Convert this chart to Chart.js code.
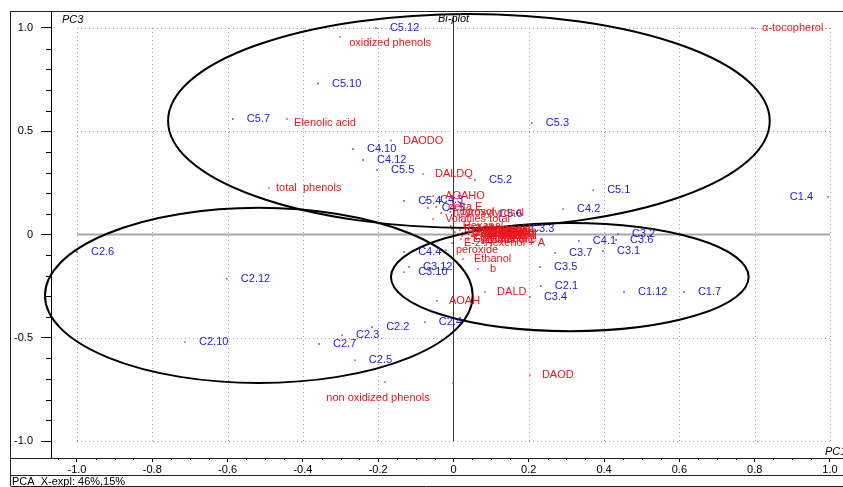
<!DOCTYPE html>
<html><head><meta charset="utf-8">
<script src="https://cdn.jsdelivr.net/npm/chart.js@4.4.1/dist/chart.umd.min.js"></script>
<style>html,body{margin:0;padding:0;background:#fff;overflow:hidden}canvas{display:block}</style>
</head><body>
<canvas id="c" width="843" height="487"></canvas>
<script>
// ---- data ----
const sampleNames = ["C5.12","C5.10","C5.7","C4.10","C4.12","C5.5","C5.4","C4.3","C4.5","C5.2","C5.6","C3.3","C5.3","C5.1","C4.2","C1.4","C3.2","C3.6","C4.1","C3.1","C3.7","C3.5","C2.1","C3.4","C1.12","C1.7","C2.6","C2.12","C2.10","C2.7","C2.3","C2.2","C2.5","C2.4","C4.4","C3.12","C3.10"];
const sampleX = [-0.206,-0.360,-0.586,-0.267,-0.240,-0.203,-0.131,-0.073,-0.068,0.057,0.084,0.169,0.208,0.371,0.291,0.995,0.437,0.432,0.333,0.397,0.270,0.230,0.232,0.203,0.453,0.612,-1.000,-0.602,-0.713,-0.357,-0.296,-0.216,-0.262,-0.076,-0.131,-0.118,-0.131];
const sampleY = [1.000,0.731,0.559,0.414,0.361,0.312,0.162,0.167,0.128,0.264,0.099,0.027,0.540,0.215,0.123,0.182,0.002,-0.027,-0.031,-0.080,-0.090,-0.157,-0.249,-0.303,-0.278,-0.278,-0.085,-0.215,-0.521,-0.530,-0.487,-0.448,-0.608,-0.424,-0.085,-0.157,-0.182];

const variableNames = ["α-tocopherol","oxidized phenols","Elenolic acid","DAODO","DALDQ","total  phenols","AOAHO","delta E","hydroxytyrosol","tyrosol","Volatiles total","Hexanal","E-2-Hexenal","Hexyl acetate","1-Penten-3-ol","Z-3-Hexenol","Octane","Pentanal","Acidity","K232","K270","Ethyl acetate","Nonanal","Heptanal","2-Pentenal","1-Butanol","Propanal","Hexenol","Hexenal","E-2-Hexenol + A","peroxide","Ethanol","b","AOAH","DALD","DAOD","non oxidized phenols",""];
const variableX = [0.793,-0.301,-0.442,-0.166,-0.081,-0.490,-0.054,-0.046,-0.033,-0.009,-0.054,-0.007,-0.004,0.004,0.012,0.023,0.039,0.044,0.057,0.084,0.097,0.020,0.065,0.049,0.023,0.039,0.054,0.078,0.017,-0.004,-0.020,0.025,0.065,-0.044,0.084,0.203,-0.182,-0.001];
const variableY = [1.000,0.956,0.559,0.455,0.293,0.225,0.186,0.133,0.104,0.109,0.075,0.041,0.027,0.012,0.002,-0.007,-0.017,0.017,0.002,-0.007,0.012,-0.022,0.027,-0.007,0.007,-0.027,0.017,0.007,0.022,-0.041,-0.075,-0.119,-0.167,-0.322,-0.278,-0.680,-0.714,-0.719];

const xTickValues = [-1.0,-0.8,-0.6,-0.4,-0.2,0,0.2,0.4,0.6,0.8,1.0];
const yTickValues = [-1.0,-0.5,0,0.5,1.0];
const xGridValues = [-1.0,-0.8,-0.6,-0.4,-0.2,0.2,0.4,0.6,0.8,1.0];
const yGridValues = [-1.0,-0.5,0.5,1.0];

// group ellipses (centre and radii in data units)
const ellipseCX = [0.041,-0.517,0.309];
const ellipseCY = [0.550,-0.295,-0.206];
const ellipseRX = [0.799,0.568,0.475];
const ellipseRY = [0.518,0.424,0.262];

// ---- styling ----
const BLUE = '#2020d8', RED = '#e8161c';
const LABEL_FONT = '11px "Liberation Sans", Arial, sans-serif';
const TICK_FAMILY = '"Liberation Sans Narrow", "Arial Narrow", "Liberation Sans", sans-serif';
const labelStyle = {
  "C1.4": {dx:-15, align:'right'},
  "α-tocopherol": {dx:10},
  "oxidized phenols": {dx:9, dy:6},
  "Elenolic acid": {dx:7, dy:4},
  "total  phenols": {dx:7},
  "peroxide": {dx:10},
  "Ethanol": {dx:11},
  "non oxidized phenols": {dx:-7, dy:16, align:'center'}
};

function fmt(v){ return v === 0 ? '0' : v.toFixed(1); }

const plotPlugin = {
  id: 'plotPlugin',
  beforeDatasetsDraw(chart) {
    const {ctx, scales:{x, y}} = chart;
    ctx.save();
    ctx.strokeStyle = '#9a9a9a'; ctx.lineWidth = 1; ctx.setLineDash([1,3]);
    xGridValues.forEach(v => {
      const px = Math.round(x.getPixelForValue(v)) + 0.5;
      ctx.beginPath(); ctx.moveTo(px, y.getPixelForValue(1)); ctx.lineTo(px, y.getPixelForValue(-1)); ctx.stroke();
    });
    yGridValues.forEach(v => {
      const py = Math.round(y.getPixelForValue(v)) + 0.5;
      ctx.beginPath(); ctx.moveTo(x.getPixelForValue(-1), py); ctx.lineTo(x.getPixelForValue(1), py); ctx.stroke();
    });
    ctx.setLineDash([]);
    ctx.strokeStyle = '#a8a8a8'; ctx.lineWidth = 2;
    const y0 = y.getPixelForValue(0);
    ctx.beginPath(); ctx.moveTo(x.getPixelForValue(-1), y0); ctx.lineTo(x.getPixelForValue(1), y0); ctx.stroke();
    ctx.strokeStyle = '#3a3a3a'; ctx.lineWidth = 1;
    const x0 = Math.round(x.getPixelForValue(0)) + 0.5;
    ctx.beginPath(); ctx.moveTo(x0, y.getPixelForValue(1.06)); ctx.lineTo(x0, y.getPixelForValue(-1)); ctx.stroke();
    ctx.restore();
  },
  afterDatasetsDraw(chart) {
    const {ctx, scales:{x, y}} = chart;
    ctx.save();
    ctx.strokeStyle = '#000'; ctx.lineWidth = 2;
    for (let i = 0; i < ellipseCX.length; i++) {
      const cx = x.getPixelForValue(ellipseCX[i]), cy = y.getPixelForValue(ellipseCY[i]);
      const rx = Math.abs(x.getPixelForValue(ellipseCX[i] + ellipseRX[i]) - cx);
      const ry = Math.abs(y.getPixelForValue(ellipseCY[i] + ellipseRY[i]) - cy);
      ctx.beginPath(); ctx.ellipse(cx, cy, rx, ry, 0, 0, Math.PI * 2); ctx.stroke();
    }
    ctx.font = LABEL_FONT; ctx.textBaseline = 'middle';
    chart.data.datasets.forEach((ds, di) => {
      const meta = chart.getDatasetMeta(di);
      const names = ds.names;
      const defDx = di === 0 ? 14 : 12;
      ctx.fillStyle = ds.backgroundColor;
      meta.data.forEach((pt, i) => {
        const name = names[i];
        if (!name) return;
        const st = labelStyle[name] || {};
        ctx.textAlign = st.align || 'left';
        ctx.fillText(name, pt.x + (st.dx !== undefined ? st.dx : defDx), pt.y + (st.dy || 0));
      });
    });
    ctx.restore();
  },
  afterDraw(chart) {
    const {ctx, chartArea:a, scales:{x, y}} = chart;
    ctx.save();
    ctx.strokeStyle = '#000'; ctx.lineWidth = 1;
    for (let k = -21; k <= 21; k++) {
      const v = k * 0.05;
      if (Math.abs(v / 0.2 - Math.round(v / 0.2)) < 1e-6) continue;
      if (v < x.min || v > x.max) continue;
      const px = Math.round(x.getPixelForValue(v)) + 0.5;
      ctx.beginPath(); ctx.moveTo(px, a.bottom); ctx.lineTo(px, a.bottom + 2); ctx.stroke();
    }
    for (let k = -10; k <= 10; k++) {
      const v = k * 0.1;
      if (Math.abs(v / 0.5 - Math.round(v / 0.5)) < 1e-6) continue;
      const py = Math.round(y.getPixelForValue(v)) + 0.5;
      ctx.beginPath(); ctx.moveTo(a.left - 5, py); ctx.lineTo(a.left, py); ctx.stroke();
    }
    ctx.strokeStyle = '#222';
    const L = 10.5, R = 843;
    ctx.beginPath();
    ctx.moveTo(L, a.top + 0.5); ctx.lineTo(R, a.top + 0.5);
    ctx.moveTo(L, a.top); ctx.lineTo(L, 486);
    ctx.moveTo(L, a.bottom + 0.5); ctx.lineTo(R, a.bottom + 0.5);
    ctx.moveTo(L, 475.5); ctx.lineTo(R, 475.5);
    ctx.moveTo(L, 486.5); ctx.lineTo(R, 486.5);
    ctx.stroke();
    ctx.fillStyle = '#000';
    ctx.textBaseline = 'middle'; ctx.textAlign = 'left';
    ctx.font = 'italic 11px "Liberation Sans", Arial, sans-serif';
    ctx.fillText('PC3', 62, 20);
    ctx.fillText('Bi-plot', 438, 19);
    ctx.fillText('PC1', 825, 452);
    ctx.font = '11px ' + TICK_FAMILY;
    ctx.fillText('PCA_X-expl: 46%,15%', 12, 481.5);
    ctx.restore();
  }
};

new Chart(document.getElementById('c'), {
  type: 'scatter',
  data: {
    datasets: [
      { names: sampleNames, data: sampleX.map((v, i) => ({x: v, y: sampleY[i]})),
        backgroundColor: BLUE, borderColor: BLUE, pointStyle: 'rect', pointRadius: 1, pointBorderWidth: 0 },
      { names: variableNames, data: variableX.map((v, i) => ({x: v, y: variableY[i]})),
        backgroundColor: RED, borderColor: RED, pointStyle: 'rect', pointRadius: 1, pointBorderWidth: 0 }
    ]
  },
  options: {
    responsive: false, animation: false, devicePixelRatio: 1,
    layout: { padding: {left: 10, top: 11, right: 0, bottom: 12} },
    plugins: { legend: {display: false}, tooltip: {enabled: false} },
    scales: {
      x: {
        type: 'linear', position: 'bottom', min: -1.069, max: 1.024,
        afterBuildTicks: s => { s.ticks = xTickValues.map(v => ({value: v})); },
        afterFit: s => { s.height = 17; s.paddingLeft = 0; s.paddingRight = 0; },
        grid: { drawOnChartArea: false, drawTicks: true, tickLength: 4, tickColor: '#000' },
        border: { display: true, color: '#000', width: 1 },
        ticks: { autoSkip: false, maxRotation: 0, padding: 1, color: '#000',
          font: {family: TICK_FAMILY, size: 11}, callback: v => fmt(v) }
      },
      y: {
        type: 'linear', position: 'left', min: -1.082, max: 1.082,
        afterBuildTicks: s => { s.ticks = yTickValues.map(v => ({value: v})); },
        afterFit: s => { s.width = 41; s.paddingTop = 0; s.paddingBottom = 0; },
        grid: { drawOnChartArea: false, drawTicks: true, tickLength: 10, tickColor: '#000' },
        border: { display: true, color: '#000', width: 1 },
        ticks: { autoSkip: false, padding: 8, color: '#000',
          font: {family: TICK_FAMILY, size: 11}, callback: v => fmt(v) }
      }
    }
  },
  plugins: [plotPlugin]
});
</script>
</body></html>
